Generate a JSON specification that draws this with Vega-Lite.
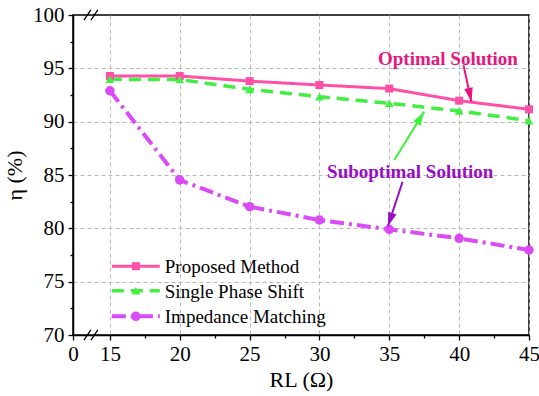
{
  "$schema": "https://vega.github.io/schema/vega-lite/v6.json",
  "width": 456,
  "height": 320,
  "autosize": {"type": "none"},
  "padding": {"left": 73, "top": 15, "right": 10, "bottom": 61},
  "background": "white",
  "config": {
    "view": {"stroke": "black", "strokeWidth": 1.5},
    "font": "Liberation Serif, Times New Roman, serif",
    "axis": {
      "labelFont": "Liberation Serif, Times New Roman, serif",
      "titleFont": "Liberation Serif, Times New Roman, serif",
      "labelColor": "black",
      "titleColor": "black",
      "tickColor": "black",
      "domainColor": "black",
      "titleFontWeight": "normal"
    }
  },
  "datasets": {
    "eff": [
      {"RL": 15, "series": "Proposed  Method", "eta": 94.28},
      {"RL": 20, "series": "Proposed  Method", "eta": 94.28},
      {"RL": 25, "series": "Proposed  Method", "eta": 93.8},
      {"RL": 30, "series": "Proposed  Method", "eta": 93.44},
      {"RL": 35, "series": "Proposed  Method", "eta": 93.1},
      {"RL": 40, "series": "Proposed  Method", "eta": 91.97},
      {"RL": 45, "series": "Proposed  Method", "eta": 91.16},
      {"RL": 15, "series": "Single Phase Shift", "eta": 93.97},
      {"RL": 20, "series": "Single Phase Shift", "eta": 93.95},
      {"RL": 25, "series": "Single Phase Shift", "eta": 93.03},
      {"RL": 30, "series": "Single Phase Shift", "eta": 92.34},
      {"RL": 35, "series": "Single Phase Shift", "eta": 91.72},
      {"RL": 40, "series": "Single Phase Shift", "eta": 91.0},
      {"RL": 45, "series": "Single Phase Shift", "eta": 90.1},
      {"RL": 15, "series": "Impedance Matching", "eta": 92.9},
      {"RL": 20, "series": "Impedance Matching", "eta": 84.53},
      {"RL": 25, "series": "Impedance Matching", "eta": 82.03},
      {"RL": 30, "series": "Impedance Matching", "eta": 80.78},
      {"RL": 35, "series": "Impedance Matching", "eta": 79.9},
      {"RL": 40, "series": "Impedance Matching", "eta": 79.06},
      {"RL": 45, "series": "Impedance Matching", "eta": 77.97}
    ],
    "legend": [
      {"series": "Proposed  Method", "ly": 76.45},
      {"series": "Single Phase Shift", "ly": 74.15},
      {"series": "Impedance Matching", "ly": 71.75}
    ],
    "arrows": [
      {"arrow": "optimal", "x": 40.31, "y": 95.3, "x2": 40.88, "y2": 91.87},
      {"arrow": "green", "x": 35.36, "y": 86.4, "x2": 37.5, "y2": 90.94},
      {"arrow": "sub", "x": 35.95, "y": 84.37, "x2": 34.9, "y2": 80.2}
    ],
    "notes": [
      {"note": "Optimal Solution", "x": 39.2, "y": 95.9},
      {"note": "Suboptimal Solution", "x": 36.5, "y": 85.3}
    ],
    "breaks": [
      {"x": 13.14, "y": 69.53, "x2": 13.64, "y2": 70.47},
      {"x": 13.64, "y": 69.53, "x2": 14.14, "y2": 70.47},
      {"x": 13.14, "y": 99.53, "x2": 13.64, "y2": 100.47},
      {"x": 13.64, "y": 99.53, "x2": 14.14, "y2": 100.47}
    ]
  },
  "resolve": {"axis": {"x": "independent", "y": "independent"}},
  "layer": [
    {
      "data": {"name": "eff"},
      "mark": {"type": "line"},
      "encoding": {
        "x": {
          "field": "RL", "type": "quantitative",
          "scale": {"domain": [12.36, 45], "nice": false, "zero": false},
          "axis": {"orient": "bottom", "values": [15, 20, 25, 30, 35, 40, 45], "grid": true, "gridDash": [4, 3], "gridColor": "#b8b8b8", "gridWidth": 1, "labels": false, "ticks": false, "domain": false, "title": null}
        },
        "y": {
          "field": "eta", "type": "quantitative",
          "scale": {"domain": [70, 100], "nice": false, "zero": false},
          "axis": {"orient": "left", "values": [75, 80, 85, 90, 95], "grid": true, "gridDash": [4, 3], "gridColor": "#b8b8b8", "gridWidth": 1, "labels": false, "ticks": false, "domain": false, "title": null}
        },
        "color": {
          "field": "series", "type": "nominal", "legend": null,
          "scale": {"domain": ["Proposed  Method", "Single Phase Shift", "Impedance Matching"], "range": ["#FF4FA7", "#40F040", "#DA4BF7"]}
        },
        "strokeDash": {
          "field": "series", "type": "nominal", "legend": null,
          "scale": {"domain": ["Proposed  Method", "Single Phase Shift", "Impedance Matching"], "range": [[1, 0], [12, 7], [14, 5, 3, 5]]}
        },
        "strokeWidth": {
          "field": "series", "type": "nominal", "legend": null,
          "scale": {"domain": ["Proposed  Method", "Single Phase Shift", "Impedance Matching"], "range": [3, 4, 3]}
        }
      }
    },
    {
      "data": {"name": "eff"},
      "mark": {"type": "point", "filled": true, "opacity": 1},
      "encoding": {
        "x": {
          "field": "RL", "type": "quantitative",
          "scale": {"domain": [12.36, 45], "nice": false, "zero": false},
          "axis": {"orient": "bottom", "values": [17.5, 22.5, 27.5, 32.5, 37.5, 42.5], "labels": false, "domain": false, "grid": false, "tickSize": 3, "tickWidth": 1.3, "title": null}
        },
        "y": {
          "field": "eta", "type": "quantitative",
          "scale": {"domain": [70, 100], "nice": false, "zero": false},
          "axis": {"orient": "left", "values": [72.5, 77.5, 82.5, 87.5, 92.5, 97.5], "labels": false, "domain": false, "grid": false, "tickSize": 3, "tickWidth": 1.3, "title": null}
        },
        "color": {"field": "series", "type": "nominal", "legend": null},
        "shape": {
          "field": "series", "type": "nominal", "legend": null,
          "scale": {"domain": ["Proposed  Method", "Single Phase Shift", "Impedance Matching"], "range": ["square", "triangle-up", "circle"]}
        },
        "size": {
          "field": "series", "type": "nominal", "legend": null,
          "scale": {"domain": ["Proposed  Method", "Single Phase Shift", "Impedance Matching"], "range": [64, 90, 90]}
        }
      }
    },
    {
      "data": {"name": "breaks"},
      "mark": {"type": "rule", "color": "black", "strokeWidth": 1.3},
      "encoding": {
        "x": {
          "field": "x", "type": "quantitative",
          "scale": {"domain": [12.36, 45], "nice": false, "zero": false},
          "axis": {"orient": "bottom", "values": [12.36, 15, 20, 25, 30, 35, 40, 45], "labelExpr": "datum.value < 14 ? '0' : format(datum.value, 'd')", "grid": false, "tickSize": 5, "tickWidth": 1.3, "domainWidth": 1.5, "labelFontSize": 21, "labelPadding": 3, "labelFlush": false, "labelOverlap": false, "title": "RL (Ω)", "titleFontSize": 22, "titlePadding": 5}
        },
        "y": {
          "field": "y", "type": "quantitative",
          "scale": {"domain": [70, 100], "nice": false, "zero": false},
          "axis": {"orient": "left", "values": [70, 75, 80, 85, 90, 95, 100], "grid": false, "tickSize": 5, "tickWidth": 1.3, "domainWidth": 1.5, "labelFontSize": 21, "labelPadding": 4, "labelFlush": false, "labelOverlap": false, "title": "η (%)", "titleFontSize": 22, "titlePadding": 6}
        },
        "x2": {"field": "x2"},
        "y2": {"field": "y2"}
      }
    },
    {
      "data": {"name": "legend"},
      "mark": {"type": "rule"},
      "encoding": {
        "x": {"datum": 15.14, "type": "quantitative", "scale": {"domain": [12.36, 45], "nice": false, "zero": false}, "axis": null},
        "x2": {"datum": 18.57},
        "y": {"field": "ly", "type": "quantitative", "scale": {"domain": [70, 100], "nice": false, "zero": false}, "axis": null},
        "color": {"field": "series", "type": "nominal", "legend": null},
        "strokeDash": {"field": "series", "type": "nominal", "legend": null},
        "strokeWidth": {"field": "series", "type": "nominal", "legend": null}
      }
    },
    {
      "data": {"name": "legend"},
      "mark": {"type": "point", "filled": true, "opacity": 1},
      "encoding": {
        "x": {"datum": 16.86, "type": "quantitative", "scale": {"domain": [12.36, 45], "nice": false, "zero": false}, "axis": null},
        "y": {"field": "ly", "type": "quantitative", "scale": {"domain": [70, 100], "nice": false, "zero": false}, "axis": null},
        "color": {"field": "series", "type": "nominal", "legend": null},
        "shape": {"field": "series", "type": "nominal", "legend": null},
        "size": {"field": "series", "type": "nominal", "legend": null}
      }
    },
    {
      "data": {"name": "legend"},
      "mark": {"type": "text", "align": "left", "baseline": "middle", "fontSize": 19, "font": "Liberation Serif, Times New Roman, serif", "color": "black", "dy": 1},
      "encoding": {
        "x": {"datum": 18.93, "type": "quantitative", "scale": {"domain": [12.36, 45], "nice": false, "zero": false}, "axis": null},
        "y": {"field": "ly", "type": "quantitative", "scale": {"domain": [70, 100], "nice": false, "zero": false}, "axis": null},
        "text": {"field": "series"}
      }
    },
    {
      "data": {"name": "arrows"},
      "transform": [{"filter": "datum.arrow == 'optimal'"}],
      "layer": [
        {"mark": {"type": "rule", "color": "#E8157E", "strokeWidth": 2}, "encoding": {"x2": {"field": "x2"}, "y2": {"field": "y2"}}},
        {"mark": {"type": "point", "shape": "M0,0L-0.5,-1.6L0.5,-1.6Z", "filled": true, "opacity": 1, "color": "#E8157E", "size": 300, "angle": -12.3}, "encoding": {"x": {"field": "x2", "type": "quantitative", "scale": {"domain": [12.36, 45], "nice": false, "zero": false}, "axis": null}, "y": {"field": "y2", "type": "quantitative", "scale": {"domain": [70, 100], "nice": false, "zero": false}, "axis": null}}}
      ],
      "encoding": {
        "x": {"field": "x", "type": "quantitative", "scale": {"domain": [12.36, 45], "nice": false, "zero": false}, "axis": null},
        "y": {"field": "y", "type": "quantitative", "scale": {"domain": [70, 100], "nice": false, "zero": false}, "axis": null}
      }
    },
    {
      "data": {"name": "arrows"},
      "transform": [{"filter": "datum.arrow == 'green'"}],
      "layer": [
        {"mark": {"type": "rule", "color": "#3CF03C", "strokeWidth": 2}, "encoding": {"x2": {"field": "x2"}, "y2": {"field": "y2"}}},
        {"mark": {"type": "point", "shape": "M0,0L-0.5,-1.6L0.5,-1.6Z", "filled": true, "opacity": 1, "color": "#3CF03C", "size": 300, "angle": 211.8}, "encoding": {"x": {"field": "x2", "type": "quantitative", "scale": {"domain": [12.36, 45], "nice": false, "zero": false}, "axis": null}, "y": {"field": "y2", "type": "quantitative", "scale": {"domain": [70, 100], "nice": false, "zero": false}, "axis": null}}}
      ],
      "encoding": {
        "x": {"field": "x", "type": "quantitative", "scale": {"domain": [12.36, 45], "nice": false, "zero": false}, "axis": null},
        "y": {"field": "y", "type": "quantitative", "scale": {"domain": [70, 100], "nice": false, "zero": false}, "axis": null}
      }
    },
    {
      "data": {"name": "arrows"},
      "transform": [{"filter": "datum.arrow == 'sub'"}],
      "layer": [
        {"mark": {"type": "rule", "color": "#9A0BC8", "strokeWidth": 2}, "encoding": {"x2": {"field": "x2"}, "y2": {"field": "y2"}}},
        {"mark": {"type": "point", "shape": "M0,0L-0.5,-1.6L0.5,-1.6Z", "filled": true, "opacity": 1, "color": "#9A0BC8", "size": 300, "angle": 18.8}, "encoding": {"x": {"field": "x2", "type": "quantitative", "scale": {"domain": [12.36, 45], "nice": false, "zero": false}, "axis": null}, "y": {"field": "y2", "type": "quantitative", "scale": {"domain": [70, 100], "nice": false, "zero": false}, "axis": null}}}
      ],
      "encoding": {
        "x": {"field": "x", "type": "quantitative", "scale": {"domain": [12.36, 45], "nice": false, "zero": false}, "axis": null},
        "y": {"field": "y", "type": "quantitative", "scale": {"domain": [70, 100], "nice": false, "zero": false}, "axis": null}
      }
    },
    {
      "data": {"name": "notes"},
      "transform": [{"filter": "datum.note == 'Optimal Solution'"}],
      "mark": {"type": "text", "fontSize": 19, "fontWeight": "bold", "font": "Liberation Serif, Times New Roman, serif", "color": "#E8157E", "align": "center", "baseline": "middle"},
      "encoding": {
        "x": {"field": "x", "type": "quantitative", "scale": {"domain": [12.36, 45], "nice": false, "zero": false}, "axis": null},
        "y": {"field": "y", "type": "quantitative", "scale": {"domain": [70, 100], "nice": false, "zero": false}, "axis": null},
        "text": {"field": "note"}
      }
    },
    {
      "data": {"name": "notes"},
      "transform": [{"filter": "datum.note == 'Suboptimal Solution'"}],
      "mark": {"type": "text", "fontSize": 19, "fontWeight": "bold", "font": "Liberation Serif, Times New Roman, serif", "color": "#9A0BC8", "align": "center", "baseline": "middle"},
      "encoding": {
        "x": {"field": "x", "type": "quantitative", "scale": {"domain": [12.36, 45], "nice": false, "zero": false}, "axis": null},
        "y": {"field": "y", "type": "quantitative", "scale": {"domain": [70, 100], "nice": false, "zero": false}, "axis": null},
        "text": {"field": "note"}
      }
    }
  ]
}
